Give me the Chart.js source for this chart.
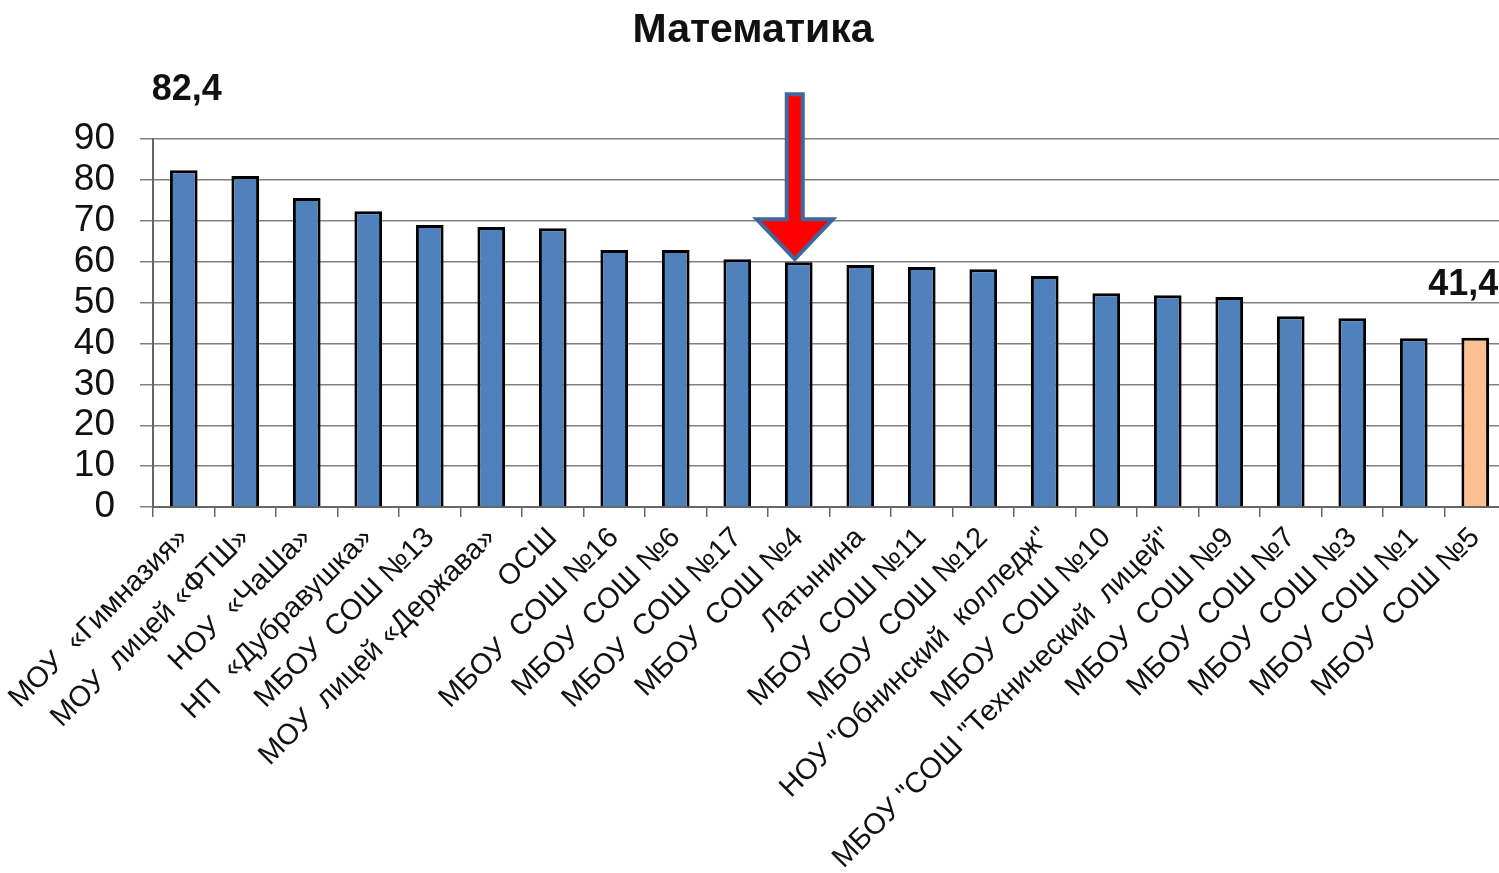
<!DOCTYPE html>
<html>
<head>
<meta charset="utf-8">
<script src="https://cdn.jsdelivr.net/npm/chart.js@4"></script>
<style>
  html, body { margin: 0; padding: 0; background: #fff; overflow: hidden; }
  #wrap { width: 1510px; height: 873px; }
</style>
</head>
<body>
<div id="wrap"><canvas id="canvas"></canvas></div>
<script>
// data
const schools = [
    'МОУ  «Гимназия»', 'МОУ  лицей «ФТШ»', 'НОУ  «ЧаШа»', 'НП  «Дубравушка»',
    'МБОУ  СОШ №13', 'МОУ  лицей «Держава»', 'ОСШ', 'МБОУ  СОШ №16',
    'МБОУ  СОШ №6', 'МБОУ  СОШ №17', 'МБОУ  СОШ №4', 'Латынина',
    'МБОУ  СОШ №11', 'МБОУ  СОШ №12', 'НОУ "Обнинский  колледж"', 'МБОУ  СОШ №10',
    'МБОУ "СОШ "Технический  лицей"', 'МБОУ  СОШ №9', 'МБОУ  СОШ №7', 'МБОУ  СОШ №3',
    'МБОУ  СОШ №1', 'МБОУ  СОШ №5'
];
const scores = [82.4, 81.0, 75.6, 72.4, 69.0, 68.5, 68.2, 62.9, 62.9, 60.6, 59.9,
                59.2, 58.7, 58.2, 56.5, 52.3, 51.8, 51.4, 46.7, 46.2, 41.3, 41.4];
const yTicks = [0, 10, 20, 30, 40, 50, 60, 70, 80, 90];
const markedIndex = 10;      // arrow points at МБОУ СОШ №4
const labelledIndexes = [0, 21];

const blue = '#4F81BD', peach = '#FAC090';
const barColors = scores.map((v, i) => i === scores.length - 1 ? peach : blue);

const fmt = v => v.toFixed(1).replace('.', ',');

const extras = {
    id: 'extras',
    afterDatasetsDraw(chart) {
        const c = chart.ctx;
        const bars = chart.getDatasetMeta(0).data;

        // value labels for first and last bar
        c.save();
        c.fillStyle = '#111';
        c.font = 'bold 36px Arial, "Liberation Sans"';
        c.textBaseline = 'middle';
        const first = bars[labelledIndexes[0]];
        c.textAlign = 'center';
        c.fillText(fmt(scores[labelledIndexes[0]]), first.x + 3, first.y - 80);
        const last = bars[labelledIndexes[1]];
        c.textAlign = 'right';
        c.fillText(fmt(scores[labelledIndexes[1]]), last.x + 23, last.y - 53);
        c.restore();

        // red arrow
        const b = bars[markedIndex];
        const x = b.x - 4, tip = b.y - 3;
        const headTop = tip - 40, headHalf = 38, shaftHalf = 8, shaftTop = tip - 165;
        c.save();
        c.beginPath();
        c.moveTo(x - shaftHalf, shaftTop);
        c.lineTo(x + shaftHalf, shaftTop);
        c.lineTo(x + shaftHalf, headTop);
        c.lineTo(x + headHalf, headTop);
        c.lineTo(x, tip);
        c.lineTo(x - headHalf, headTop);
        c.lineTo(x - shaftHalf, headTop);
        c.closePath();
        c.fillStyle = '#FF0000';
        c.fill();
        c.lineWidth = 4;
        c.lineJoin = 'miter';
        c.strokeStyle = '#41669A';
        c.stroke();
        c.restore();
    }
};

const ctx = document.getElementById('canvas').getContext('2d');
const chart = new Chart(ctx, {
    type: 'bar',
    data: {
        labels: schools,
        datasets: [{
            data: scores,
            backgroundColor: barColors,
            borderColor: '#000',
            borderWidth: 3,
            barPercentage: 0.45,
            categoryPercentage: 1
        }]
    },
    options: {
        responsive: true,
        maintainAspectRatio: false,
        animation: false,
        layout: { padding: { left: 0, right: 4, top: 0, bottom: 0 } },
        plugins: {
            legend: { display: false },
            tooltip: { enabled: false },
            title: {
                display: true,
                text: 'Математика',
                color: '#111',
                font: { family: 'Arial, "Liberation Sans"', size: 41, weight: 'bold' },
                padding: { top: 6, bottom: 84 }
            }
        },
        scales: {
            x: {
                grid: {
                    display: true,
                    drawOnChartArea: false,
                    offset: true,
                    tickLength: 10,
                    color: '#666',
                    lineWidth: 1.5
                },
                border: { color: '#666', width: 2 },
                ticks: {
                    autoSkip: false,
                    minRotation: 45,
                    maxRotation: 45,
                    padding: 4,
                    color: '#111',
                    font: { family: 'Arial, "Liberation Sans"', size: 29 }
                },
                afterFit(scale) { scale.height = 366; }
            },
            y: {
                min: 0,
                max: 90,
                afterBuildTicks(scale) { scale.ticks = yTicks.map(v => ({ value: v })); },
                grid: { color: '#808080', lineWidth: 1.5, tickLength: 13 },
                border: { color: '#666', width: 2 },
                ticks: {
                    autoSkip: false,
                    padding: 25,
                    color: '#111',
                    font: { family: 'Arial, "Liberation Sans"', size: 37 }
                },
                afterFit(scale) { scale.width = 153; }
            }
        }
    },
    plugins: [extras]
});
</script>
</body>
</html>
